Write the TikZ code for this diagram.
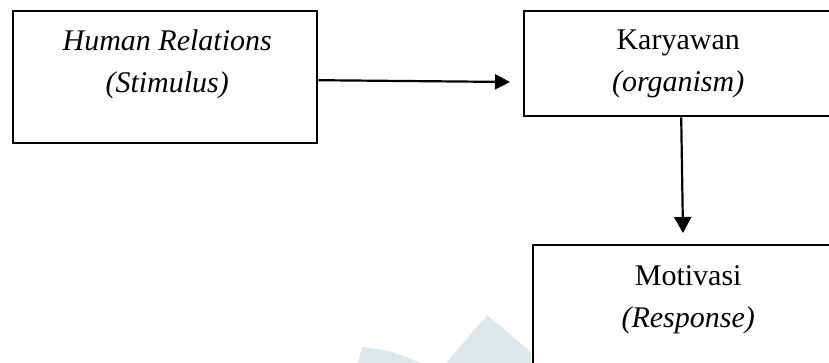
\documentclass[tikz,border=0pt]{standalone}
\usepackage{fontspec}
\setmainfont{Liberation Serif}
\usetikzlibrary{arrows.meta}
\definecolor{wm}{RGB}{222,231,233}
\begin{document}
\begin{tikzpicture}[x=1pt,y=-1pt,
  box/.style={draw,line width=2.4pt,inner sep=0pt,anchor=north west},
  lbl/.style={font=\fontsize{30}{42}\selectfont,align=center,anchor=north,inner sep=0pt},
  arr/.style={line width=2.2pt,-{Triangle[length=15pt,width=15pt]}},
  arrv/.style={line width=2.2pt,-{Triangle[length=16pt,width=17pt]}}]
\useasboundingbox (0,0) rectangle (829,363);
\clip (0,0) rectangle (829,363);
% faint watermark
\fill[wm] (487,315) -- (446,363) -- (531,363) -- (531,352) -- cycle;
\fill[wm] (362,347) .. controls (392,351) .. (420,363) -- (358,363) -- cycle;
% boxes
\node[box,minimum width=304pt,minimum height=132pt] (b1) at (12,10) {};
\node[box,minimum width=308pt,minimum height=105pt] (b2) at (523,10) {};
\node[box,minimum width=310pt,minimum height=150pt] (b3) at (532,244) {};
% labels
\node[lbl] (t1) at ([yshift=-19pt,xshift=2pt]b1.north) {\itshape Human Relations\\\itshape (Stimulus)};
\node[lbl] (t2) at ([yshift=-20pt]b2.north) {Karyawan\\\itshape (organism)};
\node[lbl] (t3) at ([yshift=-21pt]b3.north) {Motivasi\\\itshape (Response)};
% connectors
\coordinate (e1) at (510,82);
\coordinate (e2) at (683,233);
\draw[arr] ([yshift=-3pt]b1.east) -- (e1);
\draw[arrv] ([xshift=3pt]b2.south) -- (e2);
\end{tikzpicture}
\end{document}
